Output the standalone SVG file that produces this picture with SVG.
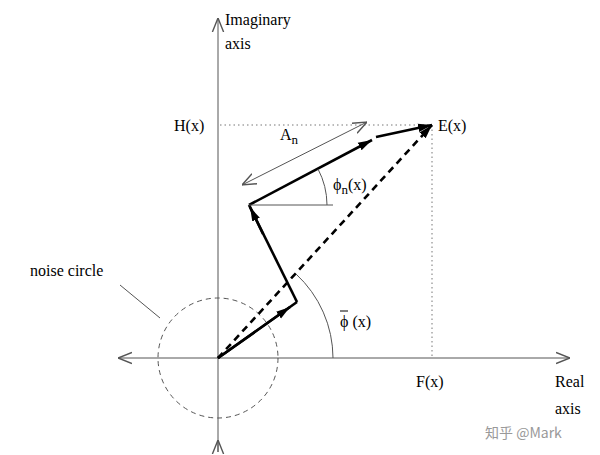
<svg xmlns="http://www.w3.org/2000/svg" width="600" height="455" viewBox="0 0 600 455">
<style>
text{font-family:"Liberation Serif",serif;font-size:16px;fill:#000}
.ax{stroke:#555;stroke-width:1;fill:none}
.th{stroke:#000;stroke-width:2.6;fill:none}
.tn{stroke:#555;stroke-width:1;fill:none}
.dot{stroke:#777;stroke-width:1;stroke-dasharray:1.5 3;fill:none}
</style>
<defs>
<marker id="ah" viewBox="0 0 10 10" refX="10" refY="5" markerWidth="14" markerHeight="14" markerUnits="userSpaceOnUse" orient="auto-start-reverse"><path d="M0,1 L10,5 L0,9" fill="none" stroke="#555" stroke-width="1"/></marker>
<marker id="bh" viewBox="0 0 10 10" refX="10" refY="5" markerWidth="14" markerHeight="14" markerUnits="userSpaceOnUse" orient="auto"><path d="M0,2 L10,5 L0,8 Z" fill="#000"/></marker>
</defs>
<g id="connectors">
<line class="ax" x1="218" y1="452" x2="218" y2="18" marker-end="url(#ah)"/>
<line class="ax" x1="218" y1="452" x2="218" y2="440" marker-end="url(#ah)"/>
<line class="ax" x1="118" y1="358" x2="570" y2="358" marker-start="url(#ah)" marker-end="url(#ah)"/>
<line class="dot" x1="220" y1="125" x2="432" y2="125"/>
<line class="dot" x1="432" y1="125" x2="432" y2="358"/>
<circle cx="218" cy="358" r="60" fill="none" stroke="#555" stroke-dasharray="5 4"/>
<line class="th" x1="218" y1="358" x2="297" y2="302"/>
<line class="th" x1="218" y1="358" x2="290" y2="307" marker-end="url(#bh)"/>
<line class="th" x1="297" y1="302" x2="249" y2="205"/>
<line class="th" x1="263" y1="234" x2="250" y2="207" marker-end="url(#bh)"/>
<line class="th" x1="249" y1="205" x2="372" y2="140" marker-end="url(#bh)"/>
<line class="th" x1="376" y1="137" x2="432" y2="125" marker-end="url(#bh)"/>
<line class="th" x1="218" y1="358" x2="432" y2="125" stroke-dasharray="7 5" marker-end="url(#bh)"/>
<line class="tn" x1="242" y1="185" x2="367" y2="122" marker-start="url(#ah)" marker-end="url(#ah)"/>
<line class="tn" x1="249" y1="205" x2="333" y2="205"/>
<path class="tn" d="M327,205 A78,78 0 0 0 318,169"/>
<path class="tn" d="M333,358 A115,115 0 0 0 296,274"/>
<line class="tn" x1="120" y1="285" x2="160" y2="318"/>
</g>
<g id="labels">
<text x="225" y="25">Imaginary</text>
<text x="225" y="49">axis</text>
<text x="174" y="131">H(x)</text>
<text x="438" y="131">E(x)</text>
<text x="280" y="140">A<tspan font-size="13" dy="4">n</tspan></text>
<text x="333" y="190">ϕ<tspan font-size="13" dy="4">n</tspan><tspan dy="-4">(x)</tspan></text>
<text x="30" y="276">noise circle</text>
<text x="340" y="327">ϕ (x)</text>
<line x1="340" y1="311" x2="348" y2="311" stroke="#000" stroke-width="1"/>
<text x="416" y="387">F(x)</text>
<text x="555" y="387">Real</text>
<text x="555" y="414">axis</text>
<text x="485" y="438" style="font-family:'Noto Sans CJK SC',sans-serif;font-size:14px;fill:#999">知乎 @Mark</text>
</g>
</svg>
